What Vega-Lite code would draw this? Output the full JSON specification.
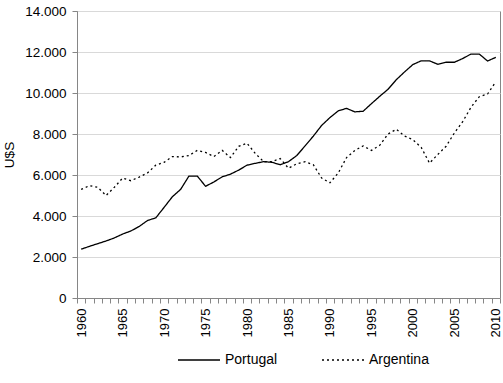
{
  "$schema": "https://vega.github.io/schema/vega-lite/v6.json",
  "width": 423,
  "height": 287,
  "autosize": {"type": "none"},
  "padding": {"left": 77, "top": 11, "right": 3, "bottom": 85},
  "background": "white",
  "config": {
    "font": "Liberation Sans",
    "view": {"stroke": "#868686", "strokeWidth": 1},
    "axis": {
      "domainColor": "#868686",
      "tickColor": "#868686",
      "labelColor": "#000000",
      "titleColor": "#000000",
      "labelFont": "Liberation Sans",
      "titleFont": "Liberation Sans"
    }
  },
  "data": {
    "values": [
      {"year": 1960, "country": "Portugal", "value": 2380},
      {"year": 1961, "country": "Portugal", "value": 2520},
      {"year": 1962, "country": "Portugal", "value": 2650},
      {"year": 1963, "country": "Portugal", "value": 2780},
      {"year": 1964, "country": "Portugal", "value": 2930},
      {"year": 1965, "country": "Portugal", "value": 3120},
      {"year": 1966, "country": "Portugal", "value": 3270},
      {"year": 1967, "country": "Portugal", "value": 3490},
      {"year": 1968, "country": "Portugal", "value": 3780},
      {"year": 1969, "country": "Portugal", "value": 3910},
      {"year": 1970, "country": "Portugal", "value": 4420},
      {"year": 1971, "country": "Portugal", "value": 4940},
      {"year": 1972, "country": "Portugal", "value": 5300},
      {"year": 1973, "country": "Portugal", "value": 5950},
      {"year": 1974, "country": "Portugal", "value": 5950},
      {"year": 1975, "country": "Portugal", "value": 5450},
      {"year": 1976, "country": "Portugal", "value": 5660},
      {"year": 1977, "country": "Portugal", "value": 5910},
      {"year": 1978, "country": "Portugal", "value": 6040},
      {"year": 1979, "country": "Portugal", "value": 6240},
      {"year": 1980, "country": "Portugal", "value": 6480},
      {"year": 1981, "country": "Portugal", "value": 6570},
      {"year": 1982, "country": "Portugal", "value": 6650},
      {"year": 1983, "country": "Portugal", "value": 6620},
      {"year": 1984, "country": "Portugal", "value": 6500},
      {"year": 1985, "country": "Portugal", "value": 6650},
      {"year": 1986, "country": "Portugal", "value": 6950},
      {"year": 1987, "country": "Portugal", "value": 7420},
      {"year": 1988, "country": "Portugal", "value": 7900},
      {"year": 1989, "country": "Portugal", "value": 8420},
      {"year": 1990, "country": "Portugal", "value": 8800},
      {"year": 1991, "country": "Portugal", "value": 9130},
      {"year": 1992, "country": "Portugal", "value": 9250},
      {"year": 1993, "country": "Portugal", "value": 9080},
      {"year": 1994, "country": "Portugal", "value": 9110},
      {"year": 1995, "country": "Portugal", "value": 9480},
      {"year": 1996, "country": "Portugal", "value": 9840},
      {"year": 1997, "country": "Portugal", "value": 10180},
      {"year": 1998, "country": "Portugal", "value": 10650},
      {"year": 1999, "country": "Portugal", "value": 11030},
      {"year": 2000, "country": "Portugal", "value": 11390},
      {"year": 2001, "country": "Portugal", "value": 11570},
      {"year": 2002, "country": "Portugal", "value": 11570},
      {"year": 2003, "country": "Portugal", "value": 11400},
      {"year": 2004, "country": "Portugal", "value": 11500},
      {"year": 2005, "country": "Portugal", "value": 11500},
      {"year": 2006, "country": "Portugal", "value": 11680},
      {"year": 2007, "country": "Portugal", "value": 11900},
      {"year": 2008, "country": "Portugal", "value": 11900},
      {"year": 2009, "country": "Portugal", "value": 11560},
      {"year": 2010, "country": "Portugal", "value": 11740},
      {"year": 1960, "country": "Argentina", "value": 5300},
      {"year": 1961, "country": "Argentina", "value": 5480},
      {"year": 1962, "country": "Argentina", "value": 5400},
      {"year": 1963, "country": "Argentina", "value": 5000},
      {"year": 1964, "country": "Argentina", "value": 5400},
      {"year": 1965, "country": "Argentina", "value": 5850},
      {"year": 1966, "country": "Argentina", "value": 5720},
      {"year": 1967, "country": "Argentina", "value": 5900},
      {"year": 1968, "country": "Argentina", "value": 6100},
      {"year": 1969, "country": "Argentina", "value": 6480},
      {"year": 1970, "country": "Argentina", "value": 6620},
      {"year": 1971, "country": "Argentina", "value": 6900},
      {"year": 1972, "country": "Argentina", "value": 6880},
      {"year": 1973, "country": "Argentina", "value": 6950},
      {"year": 1974, "country": "Argentina", "value": 7200},
      {"year": 1975, "country": "Argentina", "value": 7100},
      {"year": 1976, "country": "Argentina", "value": 6900},
      {"year": 1977, "country": "Argentina", "value": 7200},
      {"year": 1978, "country": "Argentina", "value": 6850},
      {"year": 1979, "country": "Argentina", "value": 7400},
      {"year": 1980, "country": "Argentina", "value": 7550},
      {"year": 1981, "country": "Argentina", "value": 7050},
      {"year": 1982, "country": "Argentina", "value": 6650},
      {"year": 1983, "country": "Argentina", "value": 6650},
      {"year": 1984, "country": "Argentina", "value": 6800},
      {"year": 1985, "country": "Argentina", "value": 6330},
      {"year": 1986, "country": "Argentina", "value": 6550},
      {"year": 1987, "country": "Argentina", "value": 6650},
      {"year": 1988, "country": "Argentina", "value": 6500},
      {"year": 1989, "country": "Argentina", "value": 5850},
      {"year": 1990, "country": "Argentina", "value": 5620},
      {"year": 1991, "country": "Argentina", "value": 6100},
      {"year": 1992, "country": "Argentina", "value": 6850},
      {"year": 1993, "country": "Argentina", "value": 7200},
      {"year": 1994, "country": "Argentina", "value": 7420},
      {"year": 1995, "country": "Argentina", "value": 7200},
      {"year": 1996, "country": "Argentina", "value": 7450},
      {"year": 1997, "country": "Argentina", "value": 8000},
      {"year": 1998, "country": "Argentina", "value": 8230},
      {"year": 1999, "country": "Argentina", "value": 7900},
      {"year": 2000, "country": "Argentina", "value": 7720},
      {"year": 2001, "country": "Argentina", "value": 7350},
      {"year": 2002, "country": "Argentina", "value": 6580},
      {"year": 2003, "country": "Argentina", "value": 7000},
      {"year": 2004, "country": "Argentina", "value": 7400},
      {"year": 2005, "country": "Argentina", "value": 8050},
      {"year": 2006, "country": "Argentina", "value": 8600},
      {"year": 2007, "country": "Argentina", "value": 9300},
      {"year": 2008, "country": "Argentina", "value": 9820},
      {"year": 2009, "country": "Argentina", "value": 9950},
      {"year": 2010, "country": "Argentina", "value": 10550}
    ]
  },
  "mark": {"type": "line", "color": "#000000", "strokeWidth": 1.3},
  "encoding": {
    "x": {
      "field": "year",
      "type": "quantitative",
      "scale": {"domain": [1959.5, 2010.5], "nice": false, "zero": false},
      "axis": {
        "title": null,
        "grid": false,
        "values": [1959.5, 1960.5, 1961.5, 1962.5, 1963.5, 1964.5, 1965.5, 1966.5, 1967.5, 1968.5, 1969.5, 1970.5, 1971.5, 1972.5, 1973.5, 1974.5, 1975.5, 1976.5, 1977.5, 1978.5, 1979.5, 1980.5, 1981.5, 1982.5, 1983.5, 1984.5, 1985.5, 1986.5, 1987.5, 1988.5, 1989.5, 1990.5, 1991.5, 1992.5, 1993.5, 1994.5, 1995.5, 1996.5, 1997.5, 1998.5, 1999.5, 2000.5, 2001.5, 2002.5, 2003.5, 2004.5, 2005.5, 2006.5, 2007.5, 2008.5, 2009.5, 2010.5],
        "labelExpr": "(datum.value + 0.5) % 5 === 0 ? format(datum.value + 0.5, 'd') : ''",
        "labelOffset": 4.15,
        "labelAngle": -90,
        "labelAlign": "right",
        "labelBaseline": "middle",
        "labelFontSize": 13,
        "labelPadding": 5,
        "labelOverlap": false,
        "labelFlush": false,
        "labelBound": false,
        "tickSize": 5,
        "domainWidth": 1
      }
    },
    "y": {
      "field": "value",
      "type": "quantitative",
      "scale": {"domain": [0, 14000], "nice": false},
      "axis": {
        "title": "U$S",
        "titleFontSize": 13.5,
        "titleFontWeight": "normal",
        "titlePadding": 8,
        "values": [0, 2000, 4000, 6000, 8000, 10000, 12000, 14000],
        "labelExpr": "replace(format(datum.value, ','), ',', '.')",
        "labelFontSize": 13.5,
        "labelPadding": 6,
        "tickSize": 5,
        "gridColor": "#d9d9d9",
        "gridWidth": 1
      }
    },
    "strokeDash": {
      "field": "country",
      "type": "nominal",
      "scale": {"domain": ["Portugal", "Argentina"], "range": [[1, 0], [2, 3]]},
      "legend": {
        "title": null,
        "orient": "none",
        "direction": "horizontal",
        "legendX": 100,
        "legendY": 327,
        "symbolType": "stroke",
        "symbolSize": 1764,
        "symbolStrokeWidth": 1.3,
        "symbolStrokeColor": "#000000",
        "labelFontSize": 14,
        "labelColor": "#000000",
        "labelOffset": 4,
        "columnPadding": 41
      }
    }
  }
}
